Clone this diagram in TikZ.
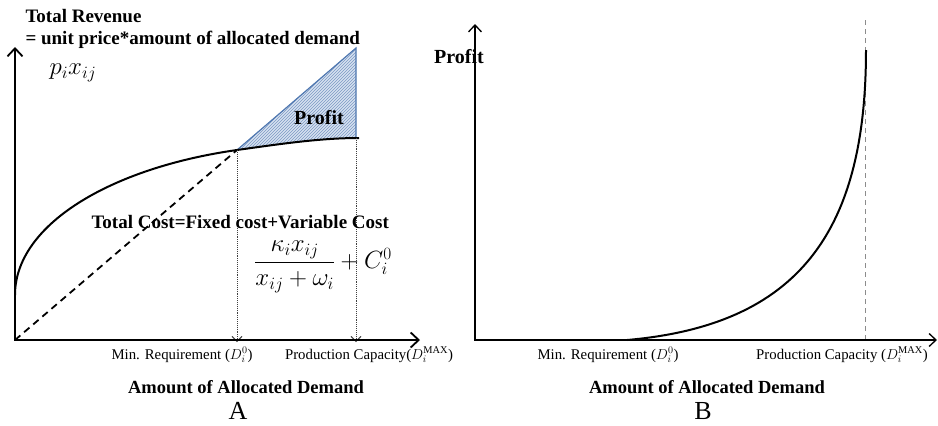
\documentclass[tikz,border=0pt]{standalone}
\usepackage{amsmath}
\usepackage{fontspec}
\setmainfont{Liberation Serif}
\usetikzlibrary{arrows.meta,patterns}

\definecolor{profitblue}{RGB}{79,119,176}
\definecolor{profitfill}{RGB}{214,225,240}

\tikzset{
  bigbold/.style={font=\fontsize{19}{22}\selectfont\bfseries},
  axistitle/.style={font=\fontsize{18.5}{21}\selectfont\bfseries},
  ticklabel/.style={font=\fontsize{14.8}{17}\selectfont},
  mathlabel/.style={font=\fontsize{25}{28}\selectfont},
  panel/.style={font=\fontsize{26}{28}\selectfont},
  axisA/.style={line width=2pt,-{Straight Barb[length=8pt,width=15pt,line width=1.8pt]}},
  axisB/.style={line width=1.3pt,-{Straight Barb[length=7pt,width=13pt,line width=1.3pt]}},
  curve/.style={line width=2pt},
  dropline/.style={densely dotted,line width=.9pt,black!75,-{Straight Barb[length=5pt,width=10pt,line width=.9pt]}},
  capline/.style={black!45,line width=.9pt,dash pattern=on 5pt off 4pt}
}

\begin{document}
\begin{tikzpicture}[x=1pt,y=-1pt]
  \useasboundingbox (0,0) rectangle (938,426);

  % left panel: revenue against cost
  \coordinate (oA) at (15,340);
  \coordinate (yA) at (15,47);
  \coordinate (xA) at (420,340);
  \coordinate (minA) at (237,150);
  \coordinate (capA) at (356,138);
  \coordinate (revA) at (356,48);

  % profit wedge between revenue line and cost curve
  \fill[profitfill] (minA) -- (revA) -- (capA) .. controls (320,138) and (280,144) .. (minA) -- cycle;
  \fill[pattern=north east lines, pattern color=profitblue!75] (minA) -- (revA) -- (capA) .. controls (320,138) and (280,144) .. (minA) -- cycle;
  \draw[profitblue, line width=1.2pt] (minA) -- (revA) -- (capA);

  \draw[curve] (15,295) .. controls (15,225) and (110,168) .. (minA) .. controls (280,144) and (320,138) .. (359,138);
  \draw[line width=1.8pt, dash pattern=on 7pt off 5pt] (oA) -- (minA);

  \draw[dropline] (minA) -- ([yshift=-2pt]minA |- oA);
  \draw[dropline] (capA) -- ([yshift=-2pt]capA |- oA);

  \node[bigbold, anchor=west] (revtitle) at (22,16) {Total Revenue};
  \node[bigbold, anchor=west] (revdef) at (22,40) {= unit price*amount of allocated demand};
  \node[mathlabel] (revexpr) at (73,73) {$p_i x_{ij}$};
  \node[bigbold, font=\fontsize{20}{22}\selectfont\bfseries] (profA) at (319,118) {Profit};
  \node[bigbold, anchor=west] (costdef) at (88,222) {Total Cost=Fixed cost+Variable Cost};
  \node[mathlabel] (costexpr) at (323,267) {$\dfrac{\kappa_i x_{ij}}{x_{ij}+\omega_i}+C_i^0$};

  \draw[axisA] (oA) -- (yA);
  \draw[axisA] ([xshift=-1pt]oA) -- (xA);

  \node[ticklabel] (minlabA) at (182,355) {Min. Requirement ($D_i^0$)};
  \node[ticklabel] (caplabA) at (369,355) {Production Capacity($D_i^{\mathrm{MAX}}$)};
  \node[axistitle] (xtitleA) at (246,387) {Amount of Allocated Demand};
  \node[panel] (tagA) at (238,411) {A};

  % right panel: profit curve
  \coordinate (oB) at (475,340);
  \coordinate (yB) at (475,24);
  \coordinate (xB) at (937,340);
  \coordinate (capB) at (865,340);

  \draw[capline] (865,20) -- (capB);
  \draw[curve] (627,340) .. controls (800,325) and (866,230) .. (866,50);

  \node[bigbold, font=\fontsize{20}{22}\selectfont\bfseries] (profB) at (459,57) {Profit};
  \draw[axisB] (oB) -- (yB);
  \draw[axisB] ([xshift=-.6pt]oB) -- (xB);

  \node[ticklabel] (minlabB) at (608,355) {Min. Requirement ($D_i^0$)};
  \node[ticklabel] (caplabB) at (842,355) {Production Capacity ($D_i^{\mathrm{MAX}}$)};
  \node[axistitle] (xtitleB) at (707,387) {Amount of Allocated Demand};
  \node[panel] (tagB) at (703,411) {B};
\end{tikzpicture}
\end{document}
